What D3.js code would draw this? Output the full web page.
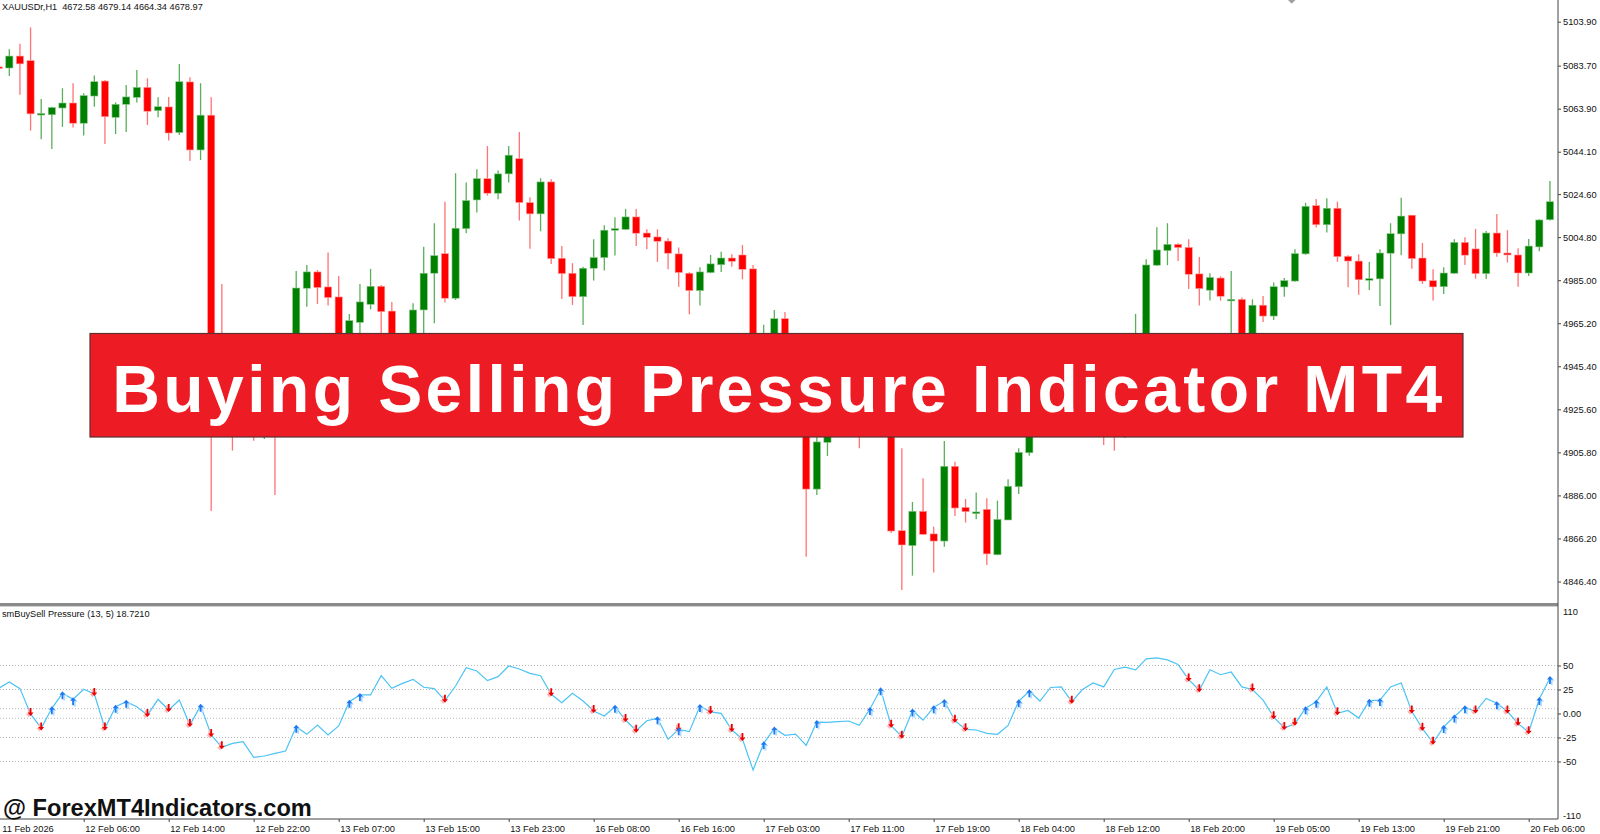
<!DOCTYPE html>
<html><head><meta charset="utf-8">
<script src="https://cdn.jsdelivr.net/npm/d3@7"></script>
<style>html,body{margin:0;padding:0;background:#fff;overflow:hidden}svg{display:block}</style>
</head><body>
<svg id="c" width="1600" height="834"></svg>
<script>
// ---- DATA (XAUUSDr, H1) ----
const openP = [5083.1,5082.6,5088.1,5086.0,5061.5,5061.1,5064.2,5066.5,5057.2,5069.7,5076.6,5059.9,5065.9,5069.1,5073.7,5063.0,5064.7,5052.9,5076.2,5044.9,
5060.9,4932.2,4925.3,4918.4,4929.9,4920.7,4927.6,4916.1,4939.1,4981.3,4988.8,4981.9,4977.3,4952.9,4965.6,4973.9,4982.2,4970.8,4950.6,4958.4,
4971.3,4988.2,4997.2,4976.7,5008.7,5021.9,5031.7,5025.0,5033.9,5040.9,5020.7,5015.5,5030.2,4995.1,4988.2,4977.4,4990.5,4995.4,5008.0,5008.4,
5014.1,5006.7,5004.9,5003.0,4997.1,4988.2,4980.2,4988.5,4992.1,4995.2,4996.6,4990.2,4946.0,4958.4,4967.3,4955.2,4943.7,4888.9,4910.4,4920.7,
4916.1,4925.3,4918.4,4927.6,4920.7,4869.8,4862.9,4878.7,4868.3,4865.0,4899.4,4880.5,4877.6,4879.6,4858.7,4874.7,4890.0,4905.6,4920.7,4932.2,
4927.6,4936.8,4946.0,4939.1,4943.7,4920.7,4916.1,4929.9,4952.9,4991.9,4998.6,5001.5,5000.1,4987.9,4980.4,4986.0,4975.6,4976.2,4955.2,4973.5,
4968.5,4981.9,4984.6,4997.1,5019.3,5010.5,5018.1,4996.0,4993.8,4985.2,4985.6,4997.4,5006.3,5014.9,4995.2,4984.8,4982.0,4988.2,5002.4,4999.4,
4988.0,5006.7,4997.5,4996.6,4988.3,5000.3,5012.8];
const highP = [5084.5,5091.2,5093.7,5101.3,5068.4,5064.8,5073.3,5075.6,5071.0,5079.1,5077.1,5066.8,5074.8,5081.7,5077.9,5069.1,5069.3,5084.5,5078.3,5075.6,
5069.1,4983.3,4941.4,4934.5,4939.1,4932.2,4943.7,4948.3,4989.2,4992.0,4989.7,4997.7,4986.9,4969.5,4983.3,4990.2,4982.8,4975.0,4959.8,4974.4,
5000.4,5011.2,5021.1,5034.2,5029.9,5036.0,5046.7,5035.4,5046.7,5053.2,5023.1,5031.9,5031.4,5000.7,4992.8,4991.2,5003.8,5010.3,5013.9,5017.8,
5017.8,5008.4,5008.4,5004.3,5000.0,4988.6,4990.9,4996.6,4998.1,4996.9,5001.2,4992.0,4964.5,4971.3,4970.4,4960.7,4952.9,4920.7,4927.6,4929.9,
4932.2,4934.5,4932.2,4939.1,4929.9,4907.7,4883.0,4893.9,4871.6,4911.0,4901.5,4884.4,4887.3,4884.7,4883.6,4893.4,4907.7,4927.6,4936.8,4939.1,
4943.7,4952.9,4950.6,4948.3,4948.3,4929.9,4934.5,4969.5,4994.6,5009.3,5011.2,5002.0,5003.8,4995.7,4988.2,4986.8,4989.2,4977.0,4976.2,4977.7,
4983.9,4986.0,4999.2,5020.6,5022.4,5022.7,5021.1,4996.5,4996.9,4993.4,4999.2,5011.2,5022.9,5015.0,5002.1,4990.0,4990.9,5003.8,5004.7,5008.6,
5007.6,5015.5,5008.0,4999.7,5004.0,5013.0,5030.6];
const lowP = [5081.7,5078.9,5070.3,5053.8,5049.8,5045.4,5055.5,5055.2,5051.5,5064.8,5047.7,5052.2,5053.2,5066.7,5056.4,5059.9,5049.2,5051.8,5039.8,5040.3,
4878.8,4918.4,4906.6,4915.2,4911.2,4911.9,4886.2,4913.3,4932.2,4972.8,4974.1,4973.3,4948.3,4947.4,4957.5,4971.6,4957.5,4948.3,4946.0,4955.2,
4957.5,4965.2,4974.7,4975.9,5006.6,5016.1,5023.9,5022.2,5029.9,5012.4,4999.5,5007.5,4992.5,4976.4,4973.6,4964.4,4984.8,4989.4,4996.3,5008.1,
5000.7,4999.2,4993.4,4990.0,4982.0,4969.3,4973.3,4988.2,4988.8,4991.2,4985.4,4942.8,4940.0,4952.9,4950.6,4939.1,4857.8,4886.2,4904.1,4913.3,
4913.8,4907.7,4915.2,4916.1,4868.7,4842.5,4849.1,4867.8,4850.5,4862.4,4876.5,4873.5,4875.0,4854.0,4858.5,4874.7,4886.7,4904.3,4918.4,4920.7,
4924.4,4932.2,4934.5,4929.9,4909.2,4906.6,4912.4,4925.3,4950.6,4991.5,4991.9,4993.8,4981.0,4973.3,4975.6,4975.6,4955.2,4950.6,4952.9,4965.8,
4966.7,4977.4,4984.3,4996.7,5009.2,5006.9,4993.5,4981.7,4978.3,4980.5,4973.1,4964.4,4996.5,4990.3,4983.3,4975.6,4978.7,4987.9,4992.0,4985.7,
4985.6,4995.8,4993.1,4982.0,4986.9,4998.3,5012.4];
const closeP = [5082.6,5088.1,5084.5,5061.5,5061.7,5064.4,5066.5,5057.2,5069.9,5076.3,5060.2,5065.9,5069.3,5073.7,5062.7,5064.8,5052.7,5076.3,5044.9,5060.9,
4932.2,4925.3,4918.4,4929.9,4920.7,4927.6,4916.1,4939.1,4981.4,4988.8,4981.6,4977.0,4952.9,4966.4,4975.0,4982.2,4970.5,4950.6,4958.4,4971.3,
4988.2,4996.3,4976.7,5008.9,5021.6,5031.7,5025.0,5033.9,5042.5,5020.7,5015.5,5030.2,4994.9,4988.0,4977.4,4990.5,4995.4,5008.0,5008.7,5014.1,
5006.6,5004.7,5002.9,4997.4,4988.5,4980.2,4988.8,4992.5,4995.2,4993.7,4990.0,4948.3,4958.4,4967.3,4955.2,4943.7,4888.9,4910.6,4920.7,4916.1,
4925.3,4918.4,4927.6,4920.7,4869.6,4863.2,4878.7,4868.1,4865.0,4899.4,4880.2,4878.5,4878.4,4859.1,4875.0,4890.2,4905.8,4920.7,4932.2,4927.6,
4936.8,4946.0,4939.1,4943.7,4920.7,4916.1,4929.9,4952.9,4992.0,4998.9,5001.5,5000.0,4987.7,4981.1,4986.3,4977.6,4976.2,4955.2,4973.5,4968.5,
4982.0,4984.8,4997.2,5019.0,5010.5,5018.1,4995.8,4993.8,4985.2,4985.7,4997.5,5006.4,5014.5,4994.9,4984.6,4981.9,4988.3,5002.4,4996.5,4988.0,
5006.7,4997.5,4996.6,4988.3,5000.7,5012.7,5021.1];

// smBuySell Pressure (13, 5)
const pressure = [26.2,32.8,25.9,-0.5,-15.5,5.4,21.0,14.8,25.2,20.3,-15.5,7.1,12.3,7.1,-1.6,14.8,3.6,14.1,-12.0,8.2,
-22.4,-35.2,-31.1,-29.3,-45.7,-44.3,-41.5,-39.1,-13.7,-21.7,-12.0,-22.4,-13.0,12.3,19.3,19.3,39.4,26.2,31.4,35.6,
27.3,25.9,13.4,28.6,47.7,44.3,34.2,38.4,49.5,46.4,41.8,39.4,20.0,11.3,21.0,13.0,2.6,-2.6,7.1,-6.8,
-17.9,-7.5,-5.0,-26.9,-16.5,-18.9,7.8,1.6,0.2,-17.2,-26.6,-58.9,-31.1,-15.5,-22.7,-21.4,-33.2,-8.9,-9.2,-8.5,
-7.8,-12.3,4.7,25.2,-12.7,-24.1,3.0,-6.8,6.4,13.0,-7.5,-16.5,-17.2,-20.7,-21.7,-12.5,12.8,23.3,13.0,27.1,
27.7,12.3,25.0,31.8,27.7,45.9,48.3,45.5,56.9,57.9,55.8,51.0,35.3,24.3,45.5,40.4,43.2,27.7,25.0,14.0,
-3.8,-15.1,-10.6,5.5,12.3,27.7,0.3,3.1,-4.8,13.4,14.0,27.7,31.8,2.1,-15.8,-30.5,-14.0,-3.1,6.5,2.1,
15.7,10.6,2.1,-10.6,-19.5,15.1,37.0];
const sellArrowBars = [3,4,9,10,14,16,18,20,21,42,52,56,59,60,64,67,69,70,84,85,90,91,101,112,113,118,120,121,122,126,133,134,135,139,142,143,144];
const buyArrowBars = [5,6,7,11,12,19,28,33,34,58,62,64,66,72,73,77,82,83,86,88,89,96,97,123,124,129,130,136,137,138,141,145,146];

const timeLabels = ["11 Feb 2026","12 Feb 06:00","12 Feb 14:00","12 Feb 22:00","13 Feb 07:00","13 Feb 15:00","13 Feb 23:00","16 Feb 08:00","16 Feb 16:00","17 Feb 03:00","17 Feb 11:00","17 Feb 19:00","18 Feb 04:00","18 Feb 12:00","18 Feb 20:00","19 Feb 05:00","19 Feb 13:00","19 Feb 21:00","20 Feb 06:00"];
const timeLabelBars = [0,8,16,24,32,40,48,56,64,72,80,88,96,104,112,120,128,136,144];
const priceTicks = [5103.90,5083.70,5063.90,5044.10,5024.60,5004.80,4985.00,4965.20,4945.40,4925.60,4905.80,4886.00,4866.20,4846.40];
const pressureTicks = [110,50,25,0,-25,-50,-110];
const pressureLevels = [50,25,5,-5,-25,-50];

const headerText = "XAUUSDr,H1  4672.58 4679.14 4664.34 4678.97";
const indicatorText = "smBuySell Pressure (13, 5) 18.7210";
const bannerText = "Buying Selling Pressure Indicator MT4";
const watermarkText = "@ ForexMT4Indicators.com";

// ---- DRAW ----
const FONT = "'Liberation Sans', Arial, sans-serif";
const svg = d3.select('#c');
const N = openP.length;
const AX = 1558;          // right axis x
const step = 10.625;
const x = d3.scaleLinear().domain([0, N - 1]).range([-1.3, -1.3 + (N - 1) * step]);
const y = d3.scaleLinear().domain([4846.4, 5103.9]).range([581.5, 21.7]);
const yi = d3.scaleLinear().domain([-50, 50]).range([761.5, 665.5]);

const defs = svg.append('defs');
defs.append('clipPath').attr('id', 'cm').append('rect').attr('x', 0).attr('y', 0).attr('width', AX).attr('height', 603);
defs.append('clipPath').attr('id', 'ci').append('rect').attr('x', 0).attr('y', 607).attr('width', AX).attr('height', 212);

svg.append('rect').attr('width', 1600).attr('height', 834).attr('fill', '#fff');

// candles
const bars = d3.range(N).map(i => ({ i, o: openP[i], h: highP[i], l: lowP[i], c: closeP[i], up: closeP[i] >= openP[i] }));
const gc = svg.append('g').attr('clip-path', 'url(#cm)');
gc.selectAll('line.wick').data(bars).join('line').attr('class', 'wick')
  .attr('x1', d => x(d.i)).attr('x2', d => x(d.i))
  .attr('y1', d => y(d.h)).attr('y2', d => y(d.l))
  .attr('stroke', d => d.up ? '#5aaf5a' : '#ff7373').attr('stroke-width', 1.3);
gc.selectAll('rect.body').data(bars).join('rect').attr('class', 'body')
  .attr('x', d => x(d.i) - 3.6).attr('width', 7.2)
  .attr('y', d => y(Math.max(d.o, d.c)))
  .attr('height', d => Math.max(1.6, Math.abs(y(d.o) - y(d.c))))
  .attr('fill', d => d.up ? '#008000' : '#ff0000')
  .attr('stroke', d => d.up ? '#8cc88c' : '#ffa0a0').attr('stroke-width', 0.6);

// header text
svg.append('text').attr('x', 2).attr('y', 9.5).attr('font-family', FONT).attr('font-size', 9.2)
  .attr('fill', '#111').attr('xml:space', 'preserve').style('white-space', 'pre').text(headerText);

// shift marker
svg.append('path').attr('d', `M${1288},0 L${1295.5},0 L${1291.7},3.8 Z`).attr('fill', '#a0a0a0');

// panel separator
svg.append('rect').attr('x', 0).attr('y', 603).attr('width', AX).attr('height', 3).attr('fill', '#8a8a8a');
svg.append('line').attr('x1', 0).attr('x2', AX).attr('y1', 606.5).attr('y2', 606.5).attr('stroke', '#d0d0d0').attr('stroke-width', 1);

// indicator levels
const gi = svg.append('g').attr('clip-path', 'url(#ci)');
gi.selectAll('line.lvl').data(pressureLevels).join('line').attr('class', 'lvl')
  .attr('x1', 0).attr('x2', AX).attr('y1', d => yi(d)).attr('y2', d => yi(d))
  .attr('stroke', '#b8b8b8').attr('stroke-width', 1).attr('stroke-dasharray', '1,2');

// indicator line
gi.append('path').datum(pressure)
  .attr('d', d3.line().x((v, i) => x(i)).y(v => yi(v)))
  .attr('fill', 'none').attr('stroke', '#4cc3f5').attr('stroke-width', 1.2);

// arrows
function sellPath(cx, cy) {
  return `M${cx - 0.9},${cy - 6} L${cx + 0.9},${cy - 6} L${cx + 0.9},${cy - 1.5} L${cx + 3},${cy - 1.5} L${cx},${cy + 2} L${cx - 3},${cy - 1.5} L${cx - 0.9},${cy - 1.5} Z`;
}
function buyPath(cx, cy) {
  return `M${cx - 0.9},${cy + 6} L${cx + 0.9},${cy + 6} L${cx + 0.9},${cy + 1.5} L${cx + 3},${cy + 1.5} L${cx},${cy - 2} L${cx - 3},${cy + 1.5} L${cx - 0.9},${cy + 1.5} Z`;
}
gi.selectAll('path.ssh').data(sellArrowBars).join('path').attr('class', 'ssh')
  .attr('d', i => sellPath(x(i) - 1.8, yi(pressure[i]) + 1.2)).attr('fill', '#ffb4b4');
gi.selectAll('path.sell').data(sellArrowBars).join('path').attr('class', 'sell')
  .attr('d', i => sellPath(x(i), yi(pressure[i]))).attr('fill', '#ee0000');
gi.selectAll('path.bsh').data(buyArrowBars).join('path').attr('class', 'bsh')
  .attr('d', i => buyPath(x(i) + 1.8, yi(pressure[i]) + 1.2)).attr('fill', '#b0dcff');
gi.selectAll('path.buy').data(buyArrowBars).join('path').attr('class', 'buy')
  .attr('d', i => buyPath(x(i), yi(pressure[i]))).attr('fill', '#1f78f0');

// indicator label
svg.append('text').attr('x', 2).attr('y', 617).attr('font-family', FONT).attr('font-size', 9.2)
  .attr('fill', '#111').text(indicatorText);

// right axes
svg.append('line').attr('x1', AX).attr('x2', AX).attr('y1', 0).attr('y2', 819).attr('stroke', '#444').attr('stroke-width', 1);
const pa = svg.append('g').attr('transform', `translate(${AX},0)`)
  .call(d3.axisRight(y).tickValues(priceTicks).tickFormat(d3.format('.2f')).tickSize(3).tickPadding(2));
const ia = svg.append('g').attr('transform', `translate(${AX},0)`)
  .call(d3.axisRight(yi).tickValues(pressureTicks).tickFormat(d => d === 0 ? '0.00' : String(d)).tickSize(3).tickPadding(2));
[pa, ia].forEach(g => {
  g.select('.domain').remove();
  g.selectAll('line').attr('stroke', '#444');
  g.selectAll('text').attr('font-family', FONT).attr('font-size', 9.3).attr('fill', '#111');
});
ia.selectAll('.tick').filter(d => d === 110).select('text').attr('dy', '0.75em');
ia.selectAll('.tick').filter(d => d === 110).select('line').remove();
ia.selectAll('.tick').filter(d => d === -110).select('text').attr('dy', '-0.05em');
ia.selectAll('.tick').filter(d => d === -110).select('line').remove();

// bottom axis
svg.append('line').attr('x1', 0).attr('x2', AX).attr('y1', 819).attr('y2', 819).attr('stroke', '#444').attr('stroke-width', 1);
const ba = svg.append('g').attr('transform', 'translate(0,819)')
  .call(d3.axisBottom(x).tickValues(timeLabelBars).tickFormat((d, k) => timeLabels[k]).tickSize(3).tickPadding(3.4));
ba.select('.domain').remove();
ba.selectAll('line').attr('stroke', '#444');
ba.selectAll('text').attr('font-family', FONT).attr('font-size', 9.3).attr('fill', '#111')
  .attr('text-anchor', 'start').attr('x', (d, k) => k === 0 ? 3 : 1);

// banner
svg.append('rect').attr('x', 90).attr('y', 333.5).attr('width', 1373).attr('height', 103.5)
  .attr('fill', '#ED1C24').attr('stroke', '#5a3030').attr('stroke-width', 1.2);
const bt = svg.append('text').attr('x', 112.2).attr('y', 411.7).attr('font-family', FONT)
  .attr('font-weight', 'bold').attr('font-size', 66).attr('fill', '#fff').text(bannerText);
const w0 = bt.node().getComputedTextLength();
const ls = (1330 - w0) / (bannerText.length - 1);
bt.attr('letter-spacing', ls);

// watermark
svg.append('text').attr('x', 3).attr('y', 816).attr('font-family', FONT).attr('font-weight', 'bold')
  .attr('font-size', 23.6).attr('fill', '#111').text(watermarkText);
</script>
</body></html>
